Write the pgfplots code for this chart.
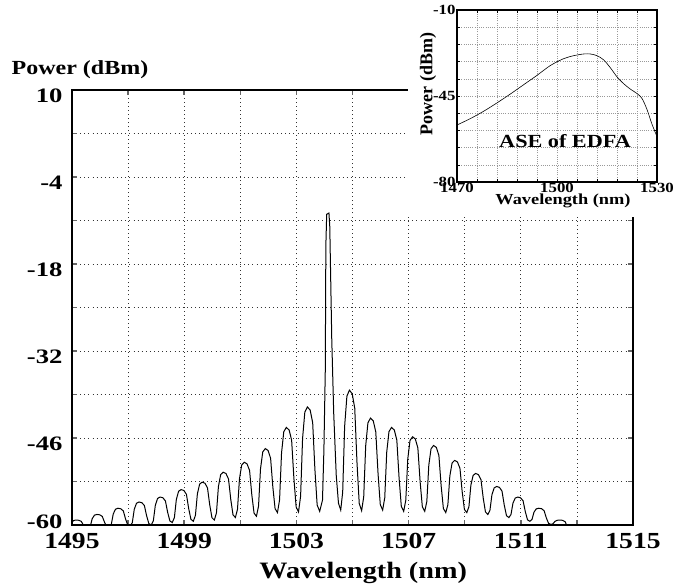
\documentclass[border=0pt]{standalone}
\usepackage{fontspec}
\setmainfont{Liberation Serif}[FakeStretch=1.2]
\newfontfamily\plainserif{Liberation Serif}
\newfontfamily\wideserif{Liberation Serif}[FakeStretch=1.3]
\usepackage{pgfplots}
\pgfplotsset{compat=1.18}

\pgfplotstableread{
x y
1494.90 -61.00
1494.97 -59.74
1495.05 -59.29
1495.14 -59.20
1495.24 -59.24
1495.33 -59.41
1495.41 -60.04
1495.49 -60.52
1495.575 -60.60
1495.65 -60.26
1495.72 -58.99
1495.80 -58.42
1495.89 -58.30
1495.99 -58.36
1496.08 -58.62
1496.16 -59.56
1496.24 -60.27
1496.325 -60.40
1496.40 -59.94
1496.47 -58.23
1496.55 -57.46
1496.64 -57.30
1496.74 -57.39
1496.83 -57.74
1496.91 -59.04
1496.99 -60.03
1497.075 -60.20
1497.15 -59.62
1497.22 -57.47
1497.30 -56.50
1497.39 -56.30
1497.49 -56.41
1497.58 -56.86
1497.66 -58.52
1497.74 -59.78
1497.825 -60.00
1497.90 -59.33
1497.97 -56.85
1498.05 -55.73
1498.14 -55.50
1498.24 -55.62
1498.33 -56.12
1498.41 -57.96
1498.49 -59.35
1498.575 -59.60
1498.65 -58.81
1498.72 -55.89
1498.80 -54.57
1498.89 -54.30
1498.99 -54.45
1499.08 -55.07
1499.16 -57.36
1499.24 -59.09
1499.325 -59.40
1499.40 -58.46
1499.47 -54.99
1499.55 -53.42
1499.64 -53.10
1499.74 -53.28
1499.83 -54.02
1499.91 -56.76
1499.99 -58.83
1500.075 -59.20
1500.15 -58.05
1500.22 -53.81
1500.30 -51.89
1500.39 -51.50
1500.49 -51.72
1500.58 -52.60
1500.66 -55.88
1500.74 -58.36
1500.825 -58.80
1500.90 -57.47
1500.97 -52.57
1501.05 -50.35
1501.14 -49.90
1501.24 -50.16
1501.33 -51.21
1501.41 -55.12
1501.49 -58.08
1501.575 -58.60
1501.65 -56.97
1501.72 -50.97
1501.80 -48.25
1501.89 -47.70
1501.99 -48.01
1502.08 -49.25
1502.16 -53.88
1502.24 -57.38
1502.325 -58.00
1502.40 -55.95
1502.47 -48.41
1502.55 -44.99
1502.64 -44.30
1502.74 -44.71
1502.83 -46.34
1502.91 -52.46
1502.99 -57.08
1503.075 -57.90
1503.15 -55.37
1503.22 -46.07
1503.30 -41.85
1503.39 -41.00
1503.49 -41.50
1503.58 -43.52
1503.66 -51.08
1503.74 -56.79
1503.83 -57.80
1503.93 -56.00
1503.98 -48.00
1504.03 -35.00
1504.05 -15.00
1504.08 -10.00
1504.16 -9.80
1504.19 -12.00
1504.26 -30.00
1504.33 -42.00
1504.42 -52.00
1504.50 -56.50
1504.58 -57.60
1504.65 -54.71
1504.72 -44.09
1504.80 -39.27
1504.89 -38.30
1504.99 -38.88
1505.08 -41.21
1505.16 -49.94
1505.24 -56.54
1505.325 -57.70
1505.40 -55.47
1505.47 -47.27
1505.55 -43.55
1505.64 -42.80
1505.74 -43.24
1505.83 -45.02
1505.91 -51.68
1505.99 -56.71
1506.075 -57.60
1506.15 -55.61
1506.22 -48.29
1506.30 -44.97
1506.39 -44.30
1506.49 -44.71
1506.58 -46.33
1506.66 -52.40
1506.74 -56.99
1506.825 -57.80
1506.90 -56.00
1506.97 -49.40
1507.05 -46.40
1507.14 -45.80
1507.24 -46.16
1507.33 -47.60
1507.41 -53.00
1507.49 -57.08
1507.575 -57.80
1507.65 -56.21
1507.72 -50.38
1507.80 -47.73
1507.89 -47.20
1507.99 -47.52
1508.08 -48.82
1508.16 -53.68
1508.24 -57.35
1508.325 -58.00
1508.40 -56.74
1508.47 -52.12
1508.55 -50.02
1508.64 -49.60
1508.74 -49.85
1508.83 -50.86
1508.91 -54.64
1508.99 -57.50
1509.075 -58.00
1509.15 -57.06
1509.22 -53.59
1509.30 -52.02
1509.39 -51.70
1509.49 -51.90
1509.58 -52.69
1509.66 -55.66
1509.74 -57.90
1509.825 -58.30
1509.90 -57.63
1509.97 -55.15
1510.05 -54.03
1510.14 -53.80
1510.24 -53.95
1510.33 -54.55
1510.41 -56.80
1510.49 -58.50
1510.575 -58.80
1510.65 -58.31
1510.72 -56.49
1510.80 -55.67
1510.89 -55.50
1510.99 -55.62
1511.08 -56.09
1511.16 -57.84
1511.24 -59.17
1511.325 -59.40
1511.40 -59.09
1511.47 -57.93
1511.55 -57.41
1511.64 -57.30
1511.74 -57.38
1511.83 -57.69
1511.91 -58.86
1511.99 -59.74
1512.075 -59.90
1512.15 -59.79
1512.22 -59.41
1512.30 -59.24
1512.39 -59.20
1512.49 -59.25
1512.58 -59.47
1512.66 -60.28
1512.74 -60.89
1512.825 -61.00
1515.00 -61.00
}\combdata

\pgfplotstableread{
x y
1470 -56.8
1474 -54.2
1478 -51.2
1482 -47.8
1486 -44.2
1490 -40.4
1494 -36.6
1498 -32.6
1502 -29.8
1505 -28.6
1508 -27.9
1510 -27.9
1512 -28.6
1514 -30.3
1516 -33.5
1518 -37.2
1520 -40.0
1522 -42.2
1524 -44.0
1525.5 -46.0
1527 -50.5
1528.5 -56.5
1530 -61.5
}\asedata

\begin{document}
\begin{tikzpicture}[x=1pt,y=1pt]
\path[use as bounding box] (0,0) rectangle (679,586);

% main spectrum
\begin{axis}[
  at={(72pt,61pt)}, anchor=south west,
  scale only axis, width=561pt, height=435pt,
  xmin=1495, xmax=1515, ymin=-60, ymax=10,
  xtick={1495,1499,1503,1507,1511,1515},
  minor xtick={1497,1501,1505,1509,1513},
  ytick={10,-4,-18,-32,-46,-60},
  yticklabels={10,-4,-18,-32,-46,\raisebox{9pt}[\height][\depth]{-60}},
  minor ytick={3,-11,-25,-39,-53},
  grid=both,
  major grid style={black!80, line width=0.8pt, dash pattern=on 0.9pt off 3.2pt},
  minor grid style={black!80, line width=0.8pt, dash pattern=on 0.9pt off 3.2pt},
  axis line style={line width=2.6pt},
  tick align=inside,
  major tick length=5pt, minor tick length=5pt,
  tick style={black!60, line width=1.5pt},
  /pgf/number format/1000 sep={},
  /pgf/number format/assume math mode=true,
  xticklabel style={font=\fontsize{23}{23}\selectfont\bfseries, yshift=-5pt},
  yticklabel style={font=\wideserif\fontsize{20.5}{20.5}\selectfont\bfseries,
    xshift=-6pt, yshift=-6pt},
  xlabel={Wavelength (nm)},
  xlabel style={font=\fontsize{23.5}{23.5}\selectfont\bfseries,
    at={(axis description cs:0.519,0)}, anchor=base, yshift=-53pt},
]
\addplot[black, line width=1pt] table[x=x,y=y] {\combdata};
\end{axis}
\node[anchor=base, font=\fontsize{20}{20}\selectfont\bfseries] at (80,511) {Power (dBm)};

% white area behind the inset
\fill[white] (408,369) rectangle (679,586);

% inset: ASE of EDFA
\begin{axis}[
  at={(457pt,404pt)}, anchor=south west,
  scale only axis, width=200pt, height=172pt,
  xmin=1470, xmax=1530, ymin=-80, ymax=-10,
  xtick={1470,1500,1530},
  minor xtick={1476,1482,1488,1494,1506,1512,1518,1524},
  ytick={-10,-45,-80},
  yticklabels={-10,-45,-80},
  minor ytick={-17,-24,-31,-38,-52,-59,-66,-73},
  grid=both,
  major grid style={black!40, line width=0.5pt, dash pattern=on 1pt off 1.2pt},
  minor grid style={black!40, line width=0.5pt, dash pattern=on 1pt off 1.2pt},
  axis line style={line width=1.1pt},
  tick align=inside,
  major tick length=3pt, minor tick length=3pt,
  tick style={black, line width=0.5pt},
  /pgf/number format/1000 sep={},
  /pgf/number format/assume math mode=true,
  ticklabel style={font=\fontsize{14}{14}\selectfont\bfseries},
  yticklabel style={xshift=2pt},
  xticklabel style={yshift=2pt},
  xlabel={Wavelength (nm)},
  xlabel style={font=\fontsize{15.3}{15.3}\selectfont\bfseries,
    at={(axis description cs:0.53,0)}, anchor=base, yshift=-23pt},
  ylabel={Power (dBm)},
  ylabel style={font=\plainserif\fontsize{18}{18}\selectfont\bfseries,
    at={(axis description cs:-0.145,0.57)}, anchor=center},
]
\addplot[black, line width=0.6pt, smooth] table[x=x,y=y] {\asedata};
\node[font=\fontsize{18.5}{18.5}\selectfont\bfseries] at (axis cs:1502.4,-63.3) {ASE of EDFA};
\end{axis}
\end{tikzpicture}
\end{document}
